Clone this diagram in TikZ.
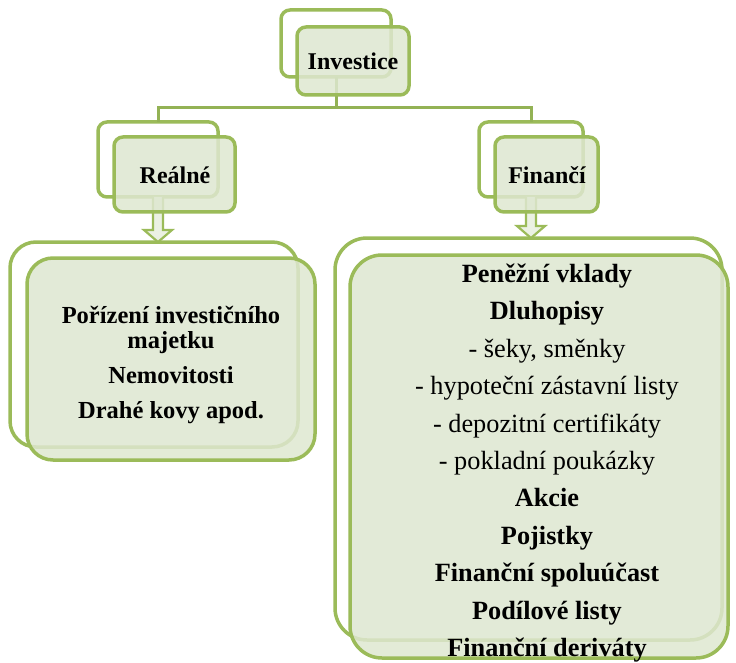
\documentclass[tikz,border=0pt]{standalone}
\usepackage{fontspec}
\setmainfont{Liberation Serif}
\usetikzlibrary{calc}
\definecolor{gc}{RGB}{155,187,89}
\definecolor{fc}{RGB}{222,231,208}
\tikzset{
  backframe/.style={draw=gc, line width=3.5pt, fill=white},
  frontbox/.style={draw=gc, line width=3.5pt, fill=fc, fill opacity=0.85},
  conn/.style={draw=gc!95!black, line width=3pt},
  arr/.style={draw=gc, line width=2.2pt, fill=fc!60!white, line join=miter},
}
\begin{document}
\begin{tikzpicture}[x=1pt,y=-1pt]
\useasboundingbox (0,0) rectangle (736,663);
% back frames
\draw[backframe, rounded corners=9pt] (281,10) rectangle (391,77);
\coordinate (inv) at (336,77);
\draw[backframe, rounded corners=9pt] (98,122) rectangle (218,197);
\coordinate (rt) at (158,122); \coordinate (rb) at (158,197);
\draw[backframe, rounded corners=9pt] (479,122) rectangle (583,197);
\coordinate (ft) at (531,122); \coordinate (fb) at (531,197);
\draw[backframe, rounded corners=26pt] (10,242) rectangle (298,447);
\draw[backframe, rounded corners=32pt] (335,238) rectangle (722,640);
% connectors
\draw[conn] (inv) -- (336,108) coordinate (hm);
\draw[conn] (rt) -- (rt |- hm) -- (ft |- hm) -- (ft);
% arrows
\draw[arr] ($(rb)+(-5,0)$) -- ++(0,33) -- ++(-9,0) -- ++(14,12) -- ++(14,-12) -- ++(-9,0) -- ++(0,-33);
\draw[arr] ($(fb)+(-5,0)$) -- ++(0,29) -- ++(-9,0) -- ++(14,12) -- ++(14,-12) -- ++(-9,0) -- ++(0,-29);
% front boxes
\draw[frontbox, rounded corners=9pt] (297,27) rectangle (409,95);
\draw[frontbox, rounded corners=9pt] (114,137) rectangle (235,212);
\draw[frontbox, rounded corners=9pt] (495,137) rectangle (598,212);
\draw[frontbox, rounded corners=26pt] (27,258) rectangle (315,460);
\draw[frontbox, rounded corners=32pt] (350,255) rectangle (728,658);
% texts
\node (tinv) at (353,61) {\fontsize{24}{26}\selectfont\bfseries Investice};
\node (treal) at (175,175) {\fontsize{24}{26}\selectfont\bfseries Reálné};
\node (tfin) at (547,175) {\fontsize{24}{26}\selectfont\bfseries Finančí};
\node[align=center, font=\fontsize{24.5}{25}\selectfont\bfseries] (tleft) at (171,365)
  {Pořízení investičního\\majetku\\[10pt]Nemovitosti\\[10pt]Drahé kovy apod.};
\node[align=center, font=\fontsize{26.3}{37.4}\selectfont] (tright) at (547,463)
  {\textbf{Peněžní vklady}\\\textbf{Dluhopisy}\\- šeky, směnky\\- hypoteční zástavní listy\\- depozitní certifikáty\\- pokladní poukázky\\\textbf{Akcie}\\\textbf{Pojistky}\\\textbf{Finanční spoluúčast}\\\textbf{Podílové listy}\\\textbf{Finanční deriváty}};
\end{tikzpicture}
\end{document}
